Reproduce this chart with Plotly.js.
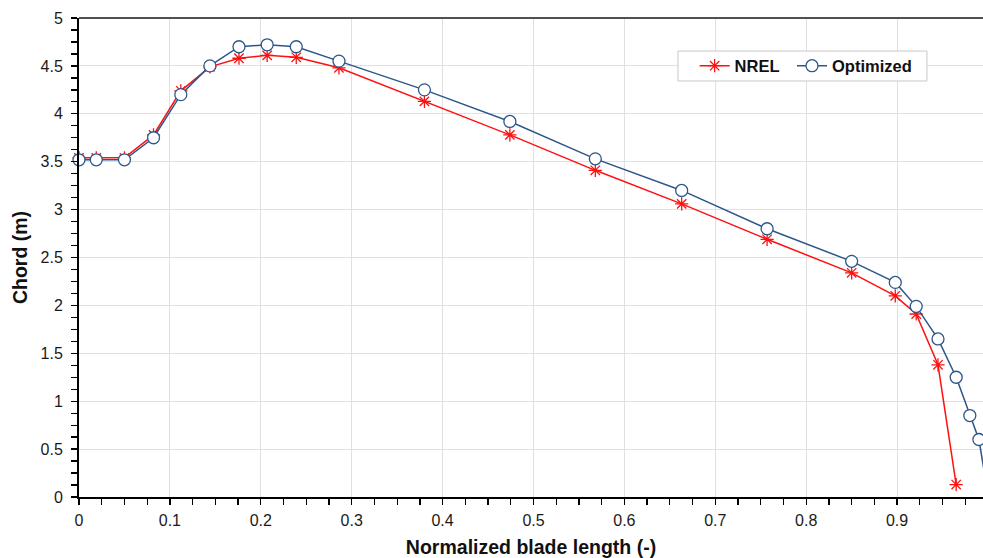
<!DOCTYPE html>
<html>
<head>
<meta charset="utf-8">
<script src="https://cdn.plot.ly/plotly-3.0.1.min.js"></script>
<style>html,body{margin:0;padding:0;background:#fff;}#chart{width:983px;height:558px;}</style>
</head>
<body>
<div id="chart"></div>
<script>
const nrelX = [0, 0.019, 0.050, 0.082, 0.112, 0.144, 0.176, 0.207, 0.239, 0.286, 0.380, 0.474, 0.568, 0.663, 0.757, 0.850, 0.898, 0.921, 0.945, 0.965];
const nrelY = [3.54, 3.54, 3.54, 3.78, 4.24, 4.49, 4.58, 4.61, 4.59, 4.48, 4.13, 3.78, 3.41, 3.06, 2.69, 2.34, 2.10, 1.91, 1.38, 0.13];
const optX = [0, 0.019, 0.050, 0.082, 0.112, 0.144, 0.176, 0.207, 0.239, 0.286, 0.380, 0.474, 0.568, 0.663, 0.757, 0.850, 0.898, 0.921, 0.945, 0.965, 0.980, 0.990, 1.0];
const optY = [3.52, 3.52, 3.52, 3.75, 4.20, 4.50, 4.70, 4.72, 4.70, 4.55, 4.25, 3.92, 3.53, 3.20, 2.80, 2.46, 2.24, 1.99, 1.65, 1.25, 0.85, 0.60, 0.03];

const FAM = 'Liberation Sans, Arial, sans-serif';
const tickFont = {family: FAM, size: 16, color: '#1a1a1a'};
const legFont = {family: FAM, size: 16.5, color: '#111', weight: 'bold'};

const traces = [
  {x: nrelX, y: nrelY, name: 'NREL', mode: 'lines+markers', cliponaxis: false, legend: 'legend',
   line: {color: '#FF1010', width: 1.5},
   marker: {symbol: 'asterisk-open', size: 11, color: '#FF1010', line: {color: '#FF1010', width: 1.3}}},
  {x: optX, y: optY, name: 'Optimized', mode: 'lines+markers', cliponaxis: false, legend: 'legend2',
   line: {color: '#2C578A', width: 1.5},
   marker: {symbol: 'circle', size: 12, color: '#FFFFFF', line: {color: '#2C578A', width: 1.3}}}
];

const layout = {
  width: 983, height: 558,
  margin: {l: 79, r: 0, t: 18, b: 61},
  paper_bgcolor: '#fff', plot_bgcolor: '#fff',
  showlegend: true,
  legend: {x: 0.681, y: 0.8998, xanchor: 'left', yanchor: 'middle', orientation: 'h',
           borderwidth: 0, bgcolor: 'rgba(0,0,0,0)', font: legFont, itemwidth: 30},
  legend2: {x: 0.7887, y: 0.8998, xanchor: 'left', yanchor: 'middle', orientation: 'h',
           borderwidth: 0, bgcolor: 'rgba(0,0,0,0)', font: legFont, itemwidth: 30},
  xaxis: {range: [0, 0.9945], dtick: 0.1, tick0: 0, showgrid: true, gridcolor: '#E0E0E0', gridwidth: 1,
          zeroline: false, showline: true, linecolor: '#000', linewidth: 2,
          ticks: 'outside', ticklen: 6, tickcolor: '#000', tickwidth: 1.3,
          minor: {dtick: 0.025, ticks: 'outside', ticklen: 6, tickcolor: '#000', tickwidth: 1.3, showgrid: false},
          tickfont: tickFont, ticklabelstandoff: 2,
          title: {text: 'Normalized blade length (-)', font: {family: FAM, size: 19.5, color: '#111', weight: 'bold'}, standoff: 20}},
  yaxis: {range: [0, 5], dtick: 0.5, tick0: 0, showgrid: true, gridcolor: '#E0E0E0', gridwidth: 1,
          zeroline: false, showline: true, linecolor: '#000', linewidth: 2,
          ticks: 'outside', ticklen: 6, tickcolor: '#000', tickwidth: 1.3,
          minor: {dtick: 0.125, ticks: 'outside', ticklen: 6, tickcolor: '#000', tickwidth: 1.3, showgrid: false},
          tickfont: tickFont, ticklabelstandoff: 5,
          title: {text: 'Chord (m)', font: {family: FAM, size: 19.5, color: '#111', weight: 'bold'}, standoff: 8}},
  shapes: [
    {type: 'line', xref: 'paper', yref: 'paper', x0: 0, x1: 1, y0: 1, y1: 1,
     line: {color: '#505050', width: 2}},
    {type: 'rect', xref: 'paper', yref: 'paper', x0: 0.6626, x1: 0.938, y0: 0.8685, y1: 0.931,
     line: {color: '#C8C8C8', width: 1}, fillcolor: '#fff', layer: 'above'}
  ]
};

Plotly.newPlot('chart', traces, layout, {staticPlot: true, displayModeBar: false});
</script>
</body>
</html>
